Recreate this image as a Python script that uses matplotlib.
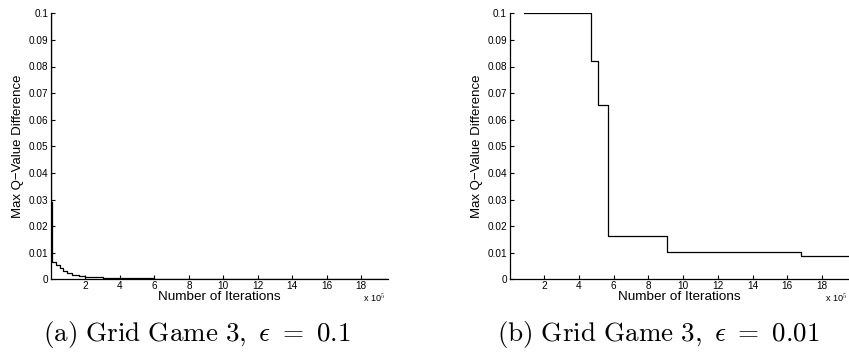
import matplotlib
matplotlib.use("Agg")
import matplotlib.pyplot as plt

plt.rcParams['font.family'] = ['Liberation Sans', 'DejaVu Sans']
plt.rcParams['mathtext.fontset'] = 'cm'

# Data (iterations in units of 1e5)
left_x = [0.0, 0.02, 0.07, 0.30, 0.55, 0.70, 0.90, 1.20, 1.60, 2.0, 3.0, 4.0, 6.0, 8.0, 10.0, 14.0, 19.55]
left_y = [0.1, 0.029, 0.0066, 0.0052, 0.0042, 0.0031, 0.0025, 0.0016, 0.0012, 0.0009, 0.0006, 0.0004, 0.0002, 0.00015, 0.0001, 0.00005, 0.00005]

right_x = [0.85, 4.67, 5.11, 5.68, 9.04, 16.77, 19.55]
right_y = [0.1, 0.082, 0.0654, 0.0164, 0.0104, 0.0088, 0.0088]

xticks = [2, 4, 6, 8, 10, 12, 14, 16, 18]
xticklabels = ['2', '4', '6', '8', '10', '12', '14', '16', '18']
yticks = [0, 0.01, 0.02, 0.03, 0.04, 0.05, 0.06, 0.07, 0.08, 0.09, 0.1]
yticklabels = ['0', '0.01', '0.02', '0.03', '0.04', '0.05', '0.06', '0.07', '0.08', '0.09', '0.1']

captions = [r'$\mathrm{(a)\ Grid\ Game\ 3,}\ \epsilon\ =\ 0.1$',
            r'$\mathrm{(b)\ Grid\ Game\ 3,}\ \epsilon\ =\ 0.01$']

W, H = 849, 353
fig = plt.figure(figsize=(W / 100, H / 100), dpi=100)

def px_rect(x0, x1, ytop, ybot):
    return [x0 / W, 1 - ybot / H, (x1 - x0) / W, (ybot - ytop) / H]

ax1 = fig.add_axes(px_rect(51, 388, 13.3, 279.3))
ax2 = fig.add_axes(px_rect(509.6, 849, 13.3, 279.3))

for ax, xs, ys in [(ax1, left_x, left_y), (ax2, right_x, right_y)]:
    ax.plot(xs, ys, drawstyle='steps-post', color='black', lw=0.9)
    ax.set_xlim(0, 19.55)
    ax.set_ylim(0, 0.1)
    ax.set_xticks(xticks)
    ax.set_xticklabels(xticklabels)
    ax.set_yticks(yticks)
    ax.set_yticklabels(yticklabels)
    ax.tick_params(direction='in', length=3, width=0.8, labelsize=7.2, pad=2, colors='black')
    ax.tick_params(axis='x', pad=1.2)
    for s in ['top', 'right']:
        ax.spines[s].set_visible(False)
    for s in ['left', 'bottom']:
        ax.spines[s].set_linewidth(0.9)
    ax.set_xlabel('Number of Iterations', fontsize=9.7)
    ax.xaxis.set_label_coords(0.5, -0.065)
    ax.xaxis.label.set_va('center')
    ax.set_ylabel('Max Q\u2212Value Difference', fontsize=9.5)
    ax.yaxis.label.set_va('center')

ax1.yaxis.set_label_coords(-33.0 / 337, 0.5)
ax2.yaxis.set_label_coords(-33.0 / 339.4, 0.5)

fig.text(374 / W, 1 - 297.5 / H, r'x 10$^5$', fontsize=6.6, ha='center', va='center')
fig.text(848 / W, 1 - 297.5 / H, r'x 10$^5$', fontsize=6.6, ha='right', va='center')

fig.text(197 / W, 1 - 334 / H, captions[0], fontsize=19.5, ha='center', va='center')
fig.text(658 / W, 1 - 334 / H, captions[1], fontsize=19.5, ha='center', va='center')

fig.savefig('out.png', dpi=100)
